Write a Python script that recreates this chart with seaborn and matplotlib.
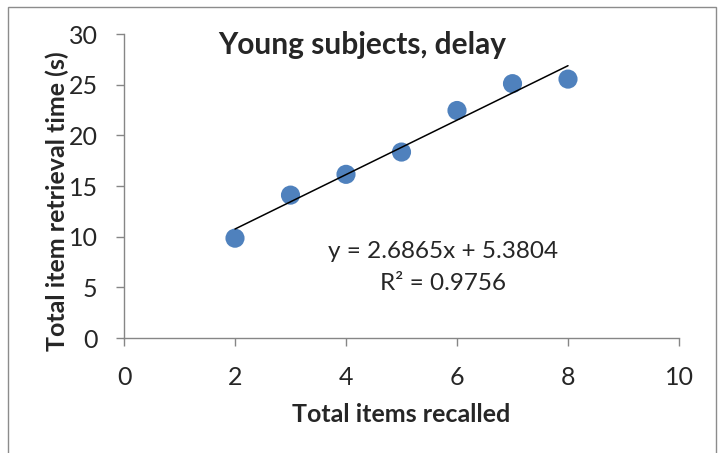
import matplotlib
matplotlib.use("Agg")
import matplotlib.pyplot as plt
import seaborn as sns
import pandas as pd
import numpy as np
from matplotlib.patches import Rectangle

items_recalled = [2, 3, 4, 5, 6, 7, 8]
retrieval_time = [9.85, 14.1, 16.15, 18.35, 22.45, 25.1, 25.55]
trend_slope = 2.6865
trend_intercept = 5.3804
r_squared = 0.9756
x_ticks = [0, 2, 4, 6, 8, 10]
y_ticks = [0, 5, 10, 15, 20, 25, 30]

sns.set_style("white")
plt.rcParams['font.family'] = ['Lato', 'DejaVu Sans']

fig = plt.figure(figsize=(7.23, 4.53), dpi=100)
ax = fig.add_axes([124/723, 1-338/453, (679-124)/723, (338-34)/453])

df = pd.DataFrame({"x": items_recalled, "y": retrieval_time})
sns.scatterplot(data=df, x="x", y="y", ax=ax, s=190, color="#4F81BD",
                edgecolor="none", zorder=3, clip_on=False)

xs = np.array([min(items_recalled), max(items_recalled)])
sns.lineplot(x=xs, y=trend_slope*xs + trend_intercept, ax=ax, color="black",
             linewidth=1.1, zorder=4)

ax.set_xlim(0, 10)
ax.set_ylim(0, 30)
ax.set_xticks(x_ticks)
ax.set_yticks(y_ticks)
ax.tick_params(axis="both", direction="out", length=6, width=1, color="#868686",
               labelsize=18, left=True, bottom=True)
ax.tick_params(axis="y", pad=13)
ax.tick_params(axis="x", pad=14)
for s in ["top", "right"]:
    ax.spines[s].set_visible(False)
for s in ["left", "bottom"]:
    ax.spines[s].set_color("#868686")
    ax.spines[s].set_linewidth(1)

ax.set_xlabel("Total items recalled", fontsize=18, fontweight="bold")
ax.set_ylabel("Total item retrieval time (s)", fontsize=18, fontweight="bold")
ax.xaxis.label.set_va("center")
ax.yaxis.label.set_va("center")
ax.yaxis.label.set_ha("center")
ax.xaxis.set_label_coords(0.5, (338-414)/304)
ax.yaxis.set_label_coords((57-124)/555, (338-201.5)/304)

fig.text(362/723, 1-45/453, "Young subjects, delay", fontsize=21.5, fontweight="bold",
         ha="center", va="center")
fig.text(443/723, 1-252/453, f"y = {trend_slope}x + {trend_intercept}", fontsize=17.5,
         ha="center", va="center")
fig.text(443/723, 1-284/453, f"R² = {r_squared}", fontsize=17.5,
         ha="center", va="center")

fig.patches.append(Rectangle((8/723, -0.1), (716-8)/723, 1.1 - 7/453,
                             transform=fig.transFigure, fill=False,
                             edgecolor="#8c8c8c", linewidth=1))

fig.savefig("out.png", dpi=100)
